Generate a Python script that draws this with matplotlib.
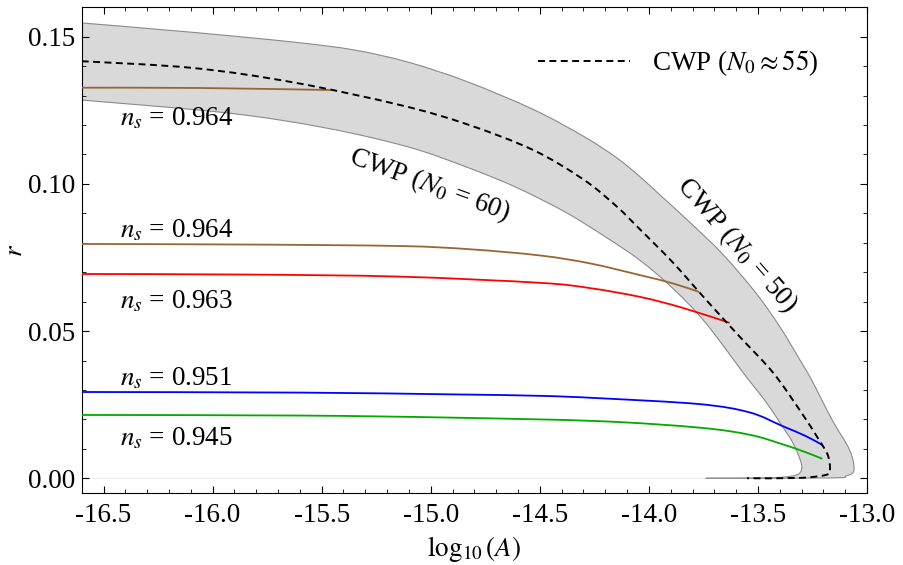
import numpy as np
import matplotlib
matplotlib.use("Agg")
import matplotlib.pyplot as plt
from matplotlib.ticker import MultipleLocator, FormatStrFormatter
from matplotlib.path import Path
from matplotlib.patches import PathPatch

plt.rcParams['font.family'] = ['Liberation Serif', 'DejaVu Serif']
plt.rcParams['mathtext.fontset'] = 'stix'
plt.rcParams['lines.scale_dashes'] = False

# CWP band edges, N0 = 50 (outer) and N0 = 60 (inner)
n50_x = [-16.60, -16.09, -15.63, -15.35, -15.10, -14.835, -14.53, -14.30, -14.15, -14.04,
         -13.95, -13.81, -13.66, -13.51, -13.40, -13.31, -13.255, -13.16, -13.08, -13.06,
         -13.095, -13.17, -13.74]
n50_r = [0.1547, 0.1515, 0.1482, 0.1455, 0.1413, 0.1348, 0.1253, 0.1162, 0.1090, 0.1024,
         0.0963, 0.0868, 0.0760, 0.0630, 0.0515, 0.0405, 0.0335, 0.0198, 0.0096, 0.0028,
         0.0008, 0.0001, 0.0]
n60_x = [-16.60, -15.93, -15.48, -15.10, -14.835, -14.61, -14.38, -14.195, -14.04, -13.89,
         -13.74, -13.56, -13.47, -13.40, -13.34, -13.305, -13.30, -13.32, -13.38, -13.49,
         -13.74]
n60_r = [0.1285, 0.1241, 0.1190, 0.1125, 0.1057, 0.0989, 0.0903, 0.0818, 0.0740, 0.0645,
         0.0528, 0.0351, 0.0266, 0.0190, 0.0120, 0.0060, 0.0030, 0.0012, 0.0004, 0.0001,
         0.0]

# CWP, N0 ~ 55
n55_x = [-16.60, -16.09, -15.63, -15.14, -14.835, -14.53, -14.30, -14.15, -14.04, -13.89,
         -13.74, -13.585, -13.43, -13.30, -13.22, -13.18, -13.17, -13.19, -13.31, -13.55]
n55_r = [0.1417, 0.1394, 0.1345, 0.1268, 0.1203, 0.1115, 0.1015, 0.0925, 0.0845, 0.0733,
         0.0608, 0.0482, 0.0358, 0.0222, 0.0130, 0.0079, 0.0028, 0.0011, 0.0001, 0.0]

# model curves
brown1_x = [-16.60, -16.06, -15.46]
brown1_r = [0.1327, 0.1326, 0.1319]
brown2_x = [-16.60, -15.83, -15.14, -14.82, -14.50, -14.27, -14.04, -13.89, -13.77]
brown2_r = [0.0796, 0.0794, 0.0789, 0.0778, 0.0757, 0.0730, 0.0690, 0.0662, 0.0633]
red_x = [-16.60, -15.83, -15.14, -14.50, -14.27, -14.04, -13.85, -13.63]
red_r = [0.0694, 0.0692, 0.0685, 0.0664, 0.0646, 0.0616, 0.0580, 0.0528]
blue_x = [-16.60, -15.60, -14.91, -14.50, -14.23, -13.77, -13.54, -13.39, -13.28, -13.205]
blue_r = [0.0293, 0.0291, 0.0285, 0.0280, 0.0272, 0.0252, 0.0224, 0.0178, 0.0143, 0.0113]
green_x = [-16.60, -15.60, -14.91, -14.23, -13.77, -13.54, -13.39, -13.28, -13.205]
green_r = [0.0215, 0.0213, 0.0206, 0.0194, 0.0172, 0.0148, 0.0116, 0.0088, 0.0066]

ns_labels = ['0.964', '0.964', '0.963', '0.951', '0.945']
ns_label_r = [0.1200, 0.0820, 0.0578, 0.0317, 0.0112]


def smooth_path(xs, ys, close=False):
    # Bezier path through the read points (Catmull-Rom tangents)
    p = np.column_stack([xs, ys]).astype(float)
    n = len(p)
    verts = [p[0]]
    codes = [Path.MOVETO]
    for i in range(n - 1):
        p0 = p[i - 1] if i > 0 else p[i]
        p3 = p[i + 2] if i + 2 < n else p[i + 1]
        c1 = p[i] + (p[i + 1] - p0) / 6.0
        c2 = p[i + 1] - (p3 - p[i]) / 6.0
        verts += [c1, c2, p[i + 1]]
        codes += [Path.CURVE4] * 3
    if close:
        verts.append(p[0])
        codes.append(Path.CLOSEPOLY)
    return Path(verts, codes)


def curve(ax, xs, ys, **kw):
    ax.add_patch(PathPatch(smooth_path(xs, ys), facecolor='none', **kw))


fig = plt.figure(figsize=(9.04, 5.65), dpi=100)
ax = fig.add_axes([0.0904, 0.127, 0.8687, 0.860])

# band
band_path_x = n50_x + n60_x[::-1][1:]
band_path_r = n50_r + n60_r[::-1][1:]
ax.add_patch(PathPatch(smooth_path(band_path_x, band_path_r, close=True),
                       facecolor='#d9d9d9', edgecolor='none', zorder=1))
curve(ax, n50_x, n50_r, edgecolor='#8a8a8a', lw=0.8, zorder=2)
curve(ax, n60_x, n60_r, edgecolor='#8a8a8a', lw=0.8, zorder=2)
ax.plot([-16.6, -13.74], [0, 0], color='#f0f0f0', lw=1.0, zorder=1)

curve(ax, n55_x, n55_r, edgecolor='black', lw=1.4, linestyle=(0, (5, 3.2)), zorder=4)
ax.plot([], [], color='black', lw=1.4, dashes=(5, 3.2), label=r'CWP ($N_0 \approx 55$)')

curve(ax, brown1_x, brown1_r, edgecolor='#996633', lw=1.3, zorder=3)
curve(ax, brown2_x, brown2_r, edgecolor='#996633', lw=1.3, zorder=3)
curve(ax, red_x, red_r, edgecolor='#ff0000', lw=1.3, zorder=3)
curve(ax, blue_x, blue_r, edgecolor='#0000ff', lw=1.3, zorder=3)
curve(ax, green_x, green_r, edgecolor='#00aa00', lw=1.3, zorder=3)

for lab, yy in zip(ns_labels, ns_label_r):
    ax.text(-16.424, yy, r'$n_s$ = ' + lab, fontsize=19.5, ha='left', va='baseline')

ax.text(-15.005, 0.0996, r'CWP ($N_0$ = 60)', fontsize=19.5, rotation=-20,
        ha='center', va='center', rotation_mode='anchor')
ax.text(-13.598, 0.0792, r'CWP ($N_0$ = 50)', fontsize=19.5, rotation=-49,
        ha='center', va='center', rotation_mode='anchor')

ax.legend(loc='center left', bbox_to_anchor=(0.581, 0.885), frameon=False,
          fontsize=19.5, handlelength=3.4, handletextpad=0.8, borderpad=0,
          borderaxespad=0)

ax.set_xlim(-16.6, -13.0)
ax.set_ylim(-0.0051, 0.16)
ax.xaxis.set_major_locator(MultipleLocator(0.5))
ax.xaxis.set_minor_locator(MultipleLocator(0.1))
ax.yaxis.set_major_locator(MultipleLocator(0.05))
ax.yaxis.set_minor_locator(MultipleLocator(0.01))
ax.xaxis.set_major_formatter(FormatStrFormatter('%.1f'))
ax.yaxis.set_major_formatter(FormatStrFormatter('%.2f'))
ax.tick_params(which='both', direction='in', top=True, right=True, labelsize=19.5)
ax.tick_params(which='major', length=5, width=0.8, pad=7)
ax.tick_params(which='minor', length=3, width=0.6)
ax.tick_params(axis='y', pad=5)

ax.set_xlabel(r'$\log_{10}(A)$', fontsize=19.5, labelpad=4)
ax.set_ylabel(r'$r$', fontsize=19.5)
ax.yaxis.set_label_coords(-0.068, 0.5)

fig.savefig('out.png', dpi=100)
